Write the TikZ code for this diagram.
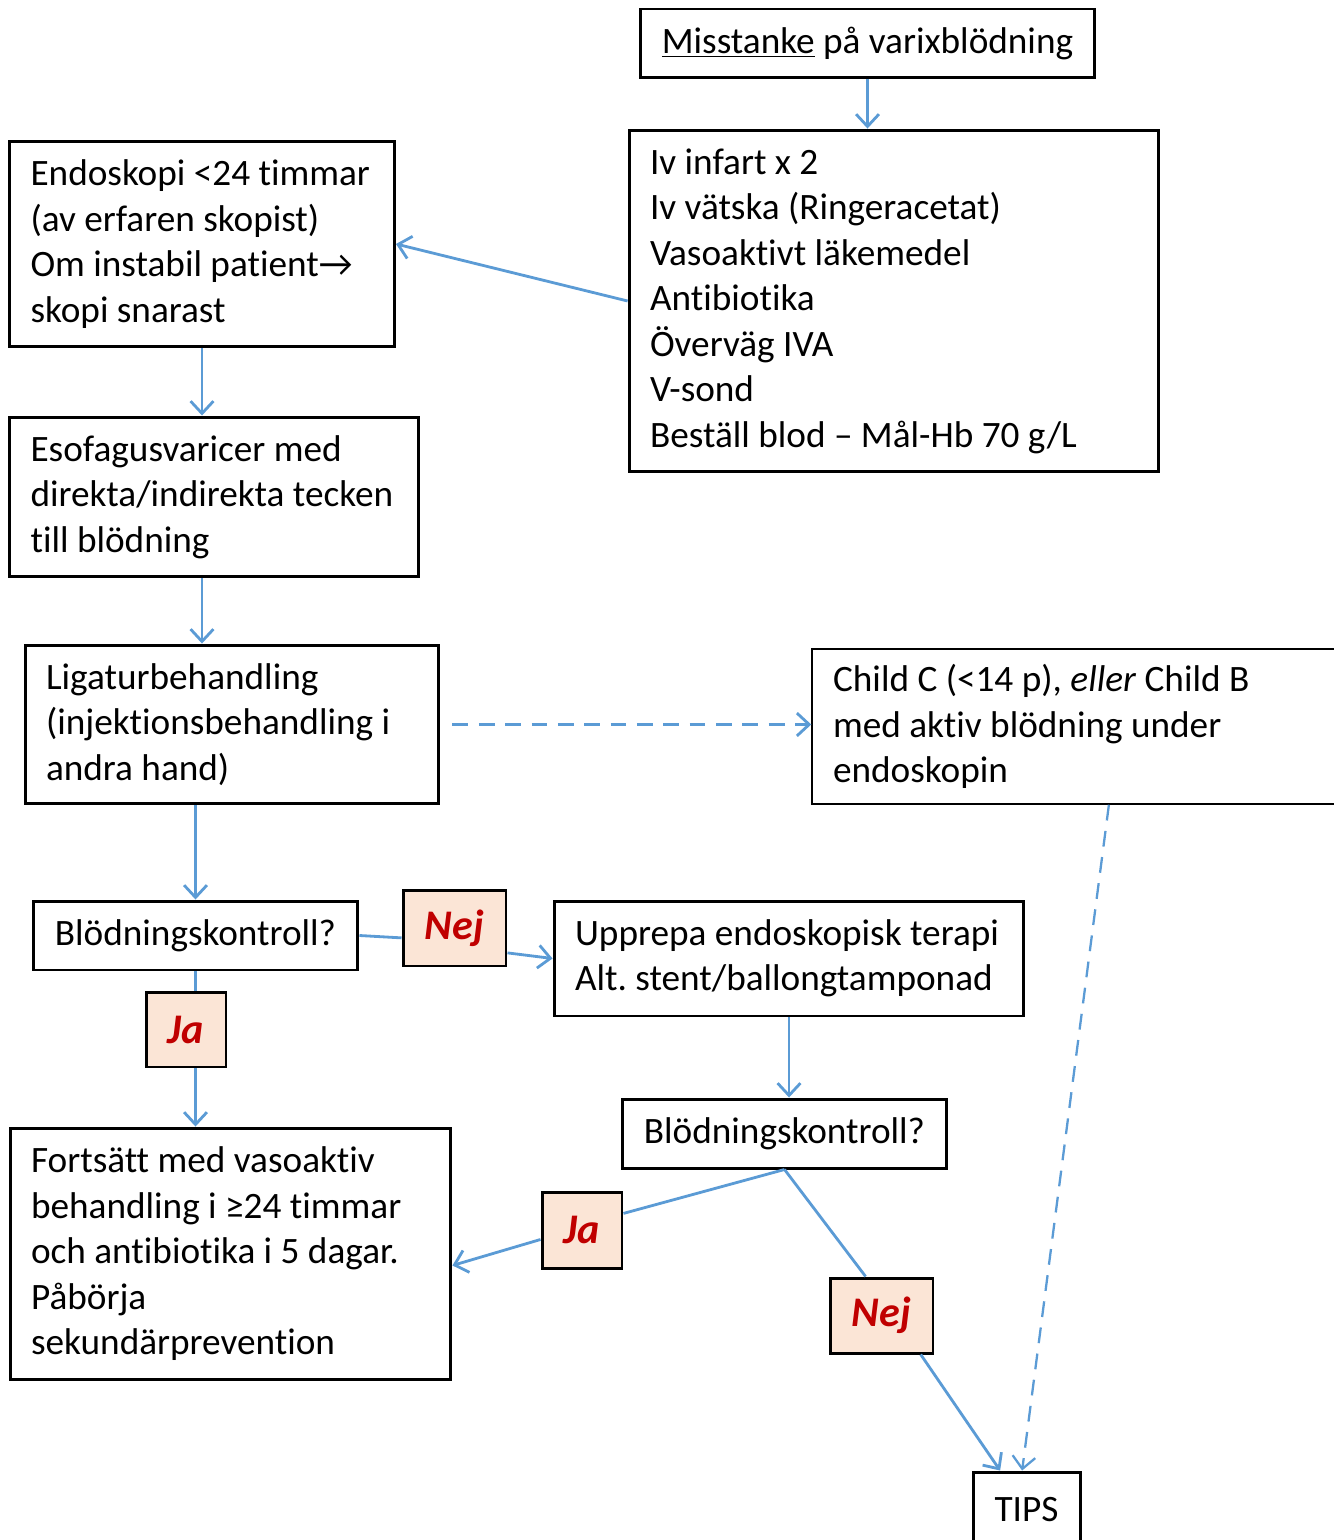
\documentclass[tikz,border=0pt]{standalone}
\usepackage{fontspec}
\setmainfont{Carlito}[Ligatures=NoCommon]
\usetikzlibrary{arrows.meta,calc}
\definecolor{flowblue}{HTML}{5B9BD5}
\definecolor{tagfill}{HTML}{FBE5D6}
\definecolor{tagred}{HTML}{C00000}
\begin{document}
\begin{tikzpicture}[
    x=0.02cm, y=-0.02cm,
    font=\fontsize{21.2}{25.9}\selectfont\frenchspacing,
    box_style/.style={draw, line width=1.7pt, align=flush left, inner xsep=0.42cm, inner ysep=0pt},
    thin_box/.style={box_style, line width=0.9pt},
    tag_style/.style={draw, line width=1.7pt, fill=tagfill, text=tagred, inner sep=0pt,
        font=\fontsize{24}{28}\selectfont\bfseries\itshape},
    edge_style/.style={flowblue, line width=1.6pt},
    arrow_style/.style={edge_style, -{Straight Barb[length=7pt,width=13pt]}},
    dash_style/.style={arrow_style, dash pattern=on 9pt off 6pt}
]
\useasboundingbox (0,0) rectangle (1333,1540);
% Top: suspicion and first measures
\node[box_style, minimum width=9.1cm, minimum height=1.38cm] (misst) at (867.5,43.5)
    {\underline{Misstanke} på varixblödning};
\node[box_style, text width=9.76cm, minimum width=10.6cm, minimum height=6.84cm] (iv) at (894,301)
    {Iv infart x 2\\ Iv vätska (Ringeracetat)\\ Vasoaktivt läkemedel\\ Antibiotika\\
     Överväg IVA\\ V-sond\\ Beställ blod – Mål-Hb 70 g/L};
% Left column
\node[box_style, text width=6.86cm, minimum width=7.7cm, minimum height=4.12cm] (endo) at (202,244)
    {Endoskopi <24 timmar\\ (av erfaren skopist)\\ Om instabil patient→\\ skopi snarast};
\node[box_style, text width=7.34cm, minimum width=8.18cm, minimum height=3.2cm] (eso) at (214,497)
    {Esofagusvaricer med\\ direkta/indirekta tecken\\ till blödning};
\node[box_style, text width=7.44cm, minimum width=8.28cm, minimum height=3.18cm] (lig) at (232,724.5)
    {Ligaturbehandling\\ (injektionsbehandling i\\ andra hand)};
\node[thin_box, text width=9.76cm, minimum width=10.6cm, minimum height=3.1cm] (child) at (1077,726.5)
    {Child C (<14 p), \textit{eller} Child B\\ med aktiv blödning under\\ endoskopin};
\node[box_style, minimum width=6.5cm, minimum height=1.38cm] (bk1) at (195.5,935.5) {Blödningskontroll?};
\node[tag_style, minimum width=2.06cm, minimum height=1.52cm] (nej1) at (454.5,928) {Nej};
\node[box_style, text width=8.56cm, minimum width=9.4cm, minimum height=2.3cm] (upp) at (789,958.5)
    {Upprepa endoskopisk terapi\\ Alt. stent/ballongtamponad};
\node[tag_style, minimum width=1.6cm, minimum height=1.5cm] (ja1) at (186,1029.5) {Ja};
\node[box_style, text width=7.98cm, minimum width=8.82cm, minimum height=5.04cm] (fort) at (230.5,1254)
    {Fortsätt med vasoaktiv\\ behandling i ≥24 timmar\\ och antibiotika i 5 dagar.\\ Påbörja\\ sekundärprevention};
% Second check
\node[box_style, minimum width=6.5cm, minimum height=1.38cm] (bk2) at (784.5,1133.5) {Blödningskontroll?};
\node[tag_style, minimum width=1.6cm, minimum height=1.52cm] (ja2) at (582,1230) {Ja};
\node[tag_style, minimum width=2.06cm, minimum height=1.5cm] (nej2) at (881.5,1315.5) {Nej};
\node[box_style, minimum width=2.14cm, minimum height=1.52cm] (tips) at (1026.5,1510) {TIPS};
% Connectors
\draw[arrow_style] (misst.south) -- (misst.south |- iv.north);
\draw[arrow_style] (iv.west) -- (endo.east);
\draw[arrow_style] (endo.south) -- (endo.south |- eso.north);
\draw[arrow_style] (endo.south |- eso.south) -- (endo.south |- lig.north);
\draw[dash_style] ([xshift=0.24cm]lig.east) -- (lig.east -| child.west);
\draw[arrow_style] (bk1.north |- lig.south) -- (bk1.north);
\draw[edge_style] (bk1.east) -- ($(nej1.west)!0.25!(nej1.south west)$);
\draw[arrow_style] ($(nej1.east)!0.63!(nej1.south east)$) -- (upp.west);
\draw[edge_style] (bk1.south) -- (bk1.south |- ja1.north);
\draw[arrow_style] (bk1.south |- ja1.south) -- (bk1.south |- fort.north);
\draw[arrow_style] (upp.south) -- (upp.south |- bk2.north);
\draw[edge_style] (bk2.south) -- ($(ja2.north east)!0.58!(ja2.east)$);
\draw[arrow_style] ($(ja2.west)!0.24!(ja2.south west)$) -- ($(fort.east)!0.09!(fort.south east)$);
\draw[edge_style] (bk2.south) -- ($(nej2.north west)!0.35!(nej2.north east)$);
\draw[arrow_style] ($(nej2.south west)!0.87!(nej2.south east)$) -- ($(tips.north west)!0.26!(tips.north east)$);
\draw[dash_style, line width=1.3pt] ($(child.south west)!0.56!(child.south east)$) -- ($(tips.north west)!0.46!(tips.north east)$);
\end{tikzpicture}
\end{document}
